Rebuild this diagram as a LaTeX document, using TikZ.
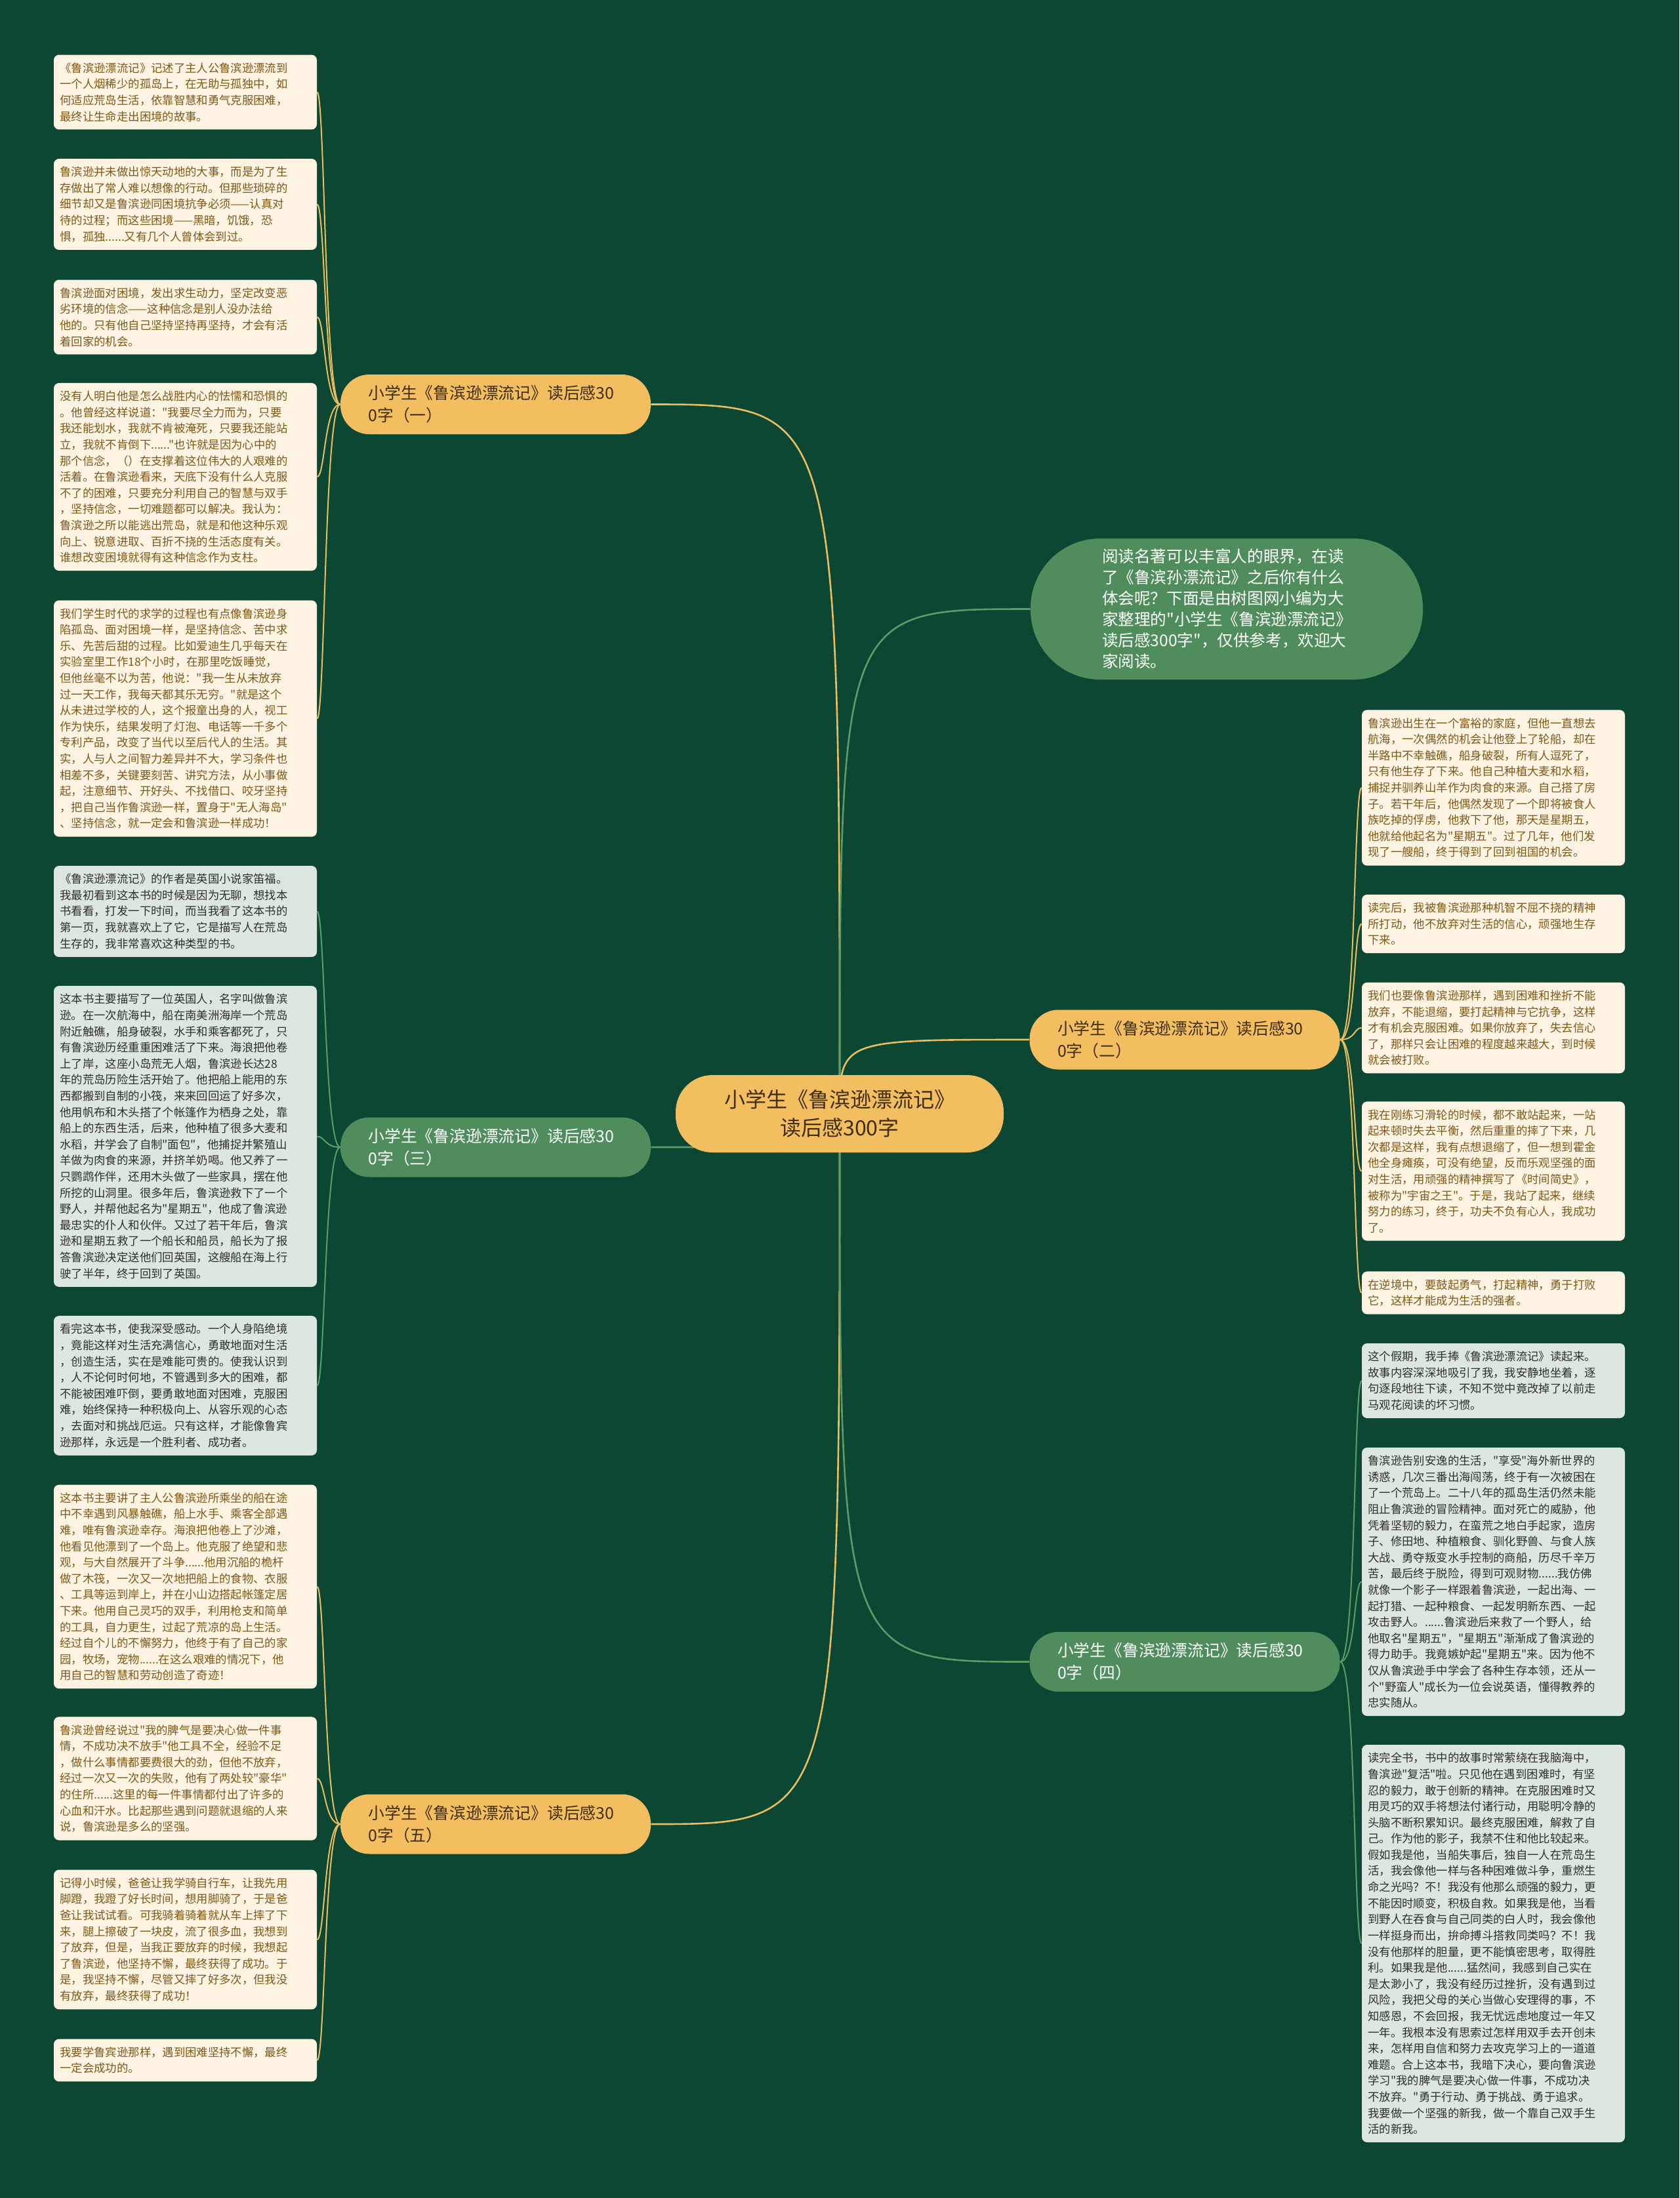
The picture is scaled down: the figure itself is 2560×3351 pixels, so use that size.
\documentclass[tikz,border=0pt]{standalone}
\usepackage{fontspec}
\newfontfamily\cjk{Noto Sans CJK SC}

\definecolor{bgcol}{HTML}{0C4733}
\definecolor{onode}{HTML}{F2BE5F}
\definecolor{otext}{HTML}{3F2D0C}
\definecolor{gnode}{HTML}{4F8D5C}
\definecolor{ocard}{HTML}{FCF3E3}
\definecolor{ocardtext}{HTML}{7E5816}
\definecolor{gcard}{HTML}{DCE8DF}
\definecolor{gcardtext}{HTML}{2E2E2E}
\definecolor{oline}{HTML}{E9BE62}
\definecolor{gline}{HTML}{5C9C69}

\pgfdeclarelayer{bg}
\pgfdeclarelayer{edges}
\pgfsetlayers{bg,edges,main}

\begin{document}
\begin{tikzpicture}[x=0.5pt,y=-0.5pt,
  root/.style={fill=onode, text=otext, rounded corners=28pt, minimum width=250pt,
    minimum height=59pt, align=center, font=\cjk\fontsize{16pt}{21.5pt}\selectfont},
  branch/.style={rounded corners=22pt, text width=194pt, inner xsep=21.25pt,
    minimum height=45.5pt, align=left, font=\cjk\fontsize{12.4pt}{17pt}\selectfont},
  obranch/.style={branch, fill=onode, text=otext},
  gbranch/.style={branch, fill=gnode, text=white},
  intro/.style={fill=gnode, text=white, rounded corners=53pt, text width=190pt,
    minimum width=299pt, minimum height=107.5pt, align=left,
    font=\cjk\fontsize{12.3pt}{16pt}\selectfont},
  card/.style={rounded corners=4pt, text width=191pt, inner xsep=4.75pt, inner ysep=6pt,
    align=left, font=\cjk\fontsize{8.68pt}{12.3pt}\selectfont},
  ocardbox/.style={card, fill=ocard, text=ocardtext},
  gcardbox/.style={card, fill=gcard, text=gcardtext},
  oedge/.style={draw=oline, line width=1pt},
  gedge/.style={draw=gline, line width=1pt}]

\begin{pgfonlayer}{bg}
\fill[bgcol] (0,0) rectangle (2560,3351);
\end{pgfonlayer}
\useasboundingbox (0,0) rectangle (2560,3351);

% centre and branches
\node[root] (root) at (1280,1698) {小学生《鲁滨逊漂流记》\\读后感300字};
\node[obranch] (b1) at (755.5,616.5) {小学生《鲁滨逊漂流记》读后感30\\0字（一）};
\node[gbranch] (b3) at (755.5,1749) {小学生《鲁滨逊漂流记》读后感30\\0字（三）};
\node[obranch] (b5) at (755.5,2781) {小学生《鲁滨逊漂流记》读后感30\\0字（五）};
\node[obranch] (b2) at (1806,1585) {小学生《鲁滨逊漂流记》读后感30\\0字（二）};
\node[gbranch] (b4) at (1806,2533.5) {小学生《鲁滨逊漂流记》读后感30\\0字（四）};
\node[intro] (intro) at (1870,928.5) {阅读名著可以丰富人的眼界，在读\\
了《鲁滨孙漂流记》之后你有什么\\
体会呢？下面是由树图网小编为大\\
家整理的"小学生《鲁滨逊漂流记》\\
读后感300字"，仅供参考，欢迎大\\
家阅读。};

% left cards
\node[ocardbox] (l1) at (282.5,140.5) {《鲁滨逊漂流记》记述了主人公鲁滨逊漂流到\\
一个人烟稀少的孤岛上，在无助与孤独中，如\\
何适应荒岛生活，依靠智慧和勇气克服困难，\\
最终让生命走出困境的故事。};
\node[ocardbox] (l2) at (282.5,311.5) {鲁滨逊并未做出惊天动地的大事，而是为了生\\
存做出了常人难以想像的行动。但那些琐碎的\\
细节却又是鲁滨逊同困境抗争必须——认真对\\
待的过程；而这些困境——黑暗，饥饿，恐\\
惧，孤独......又有几个人曾体会到过。};
\node[ocardbox] (l3) at (282.5,483.5) {鲁滨逊面对困境，发出求生动力，坚定改变恶\\
劣环境的信念——这种信念是别人没办法给\\
他的。只有他自己坚持坚持再坚持，才会有活\\
着回家的机会。};
\node[ocardbox] (l4) at (282.5,727) {没有人明白他是怎么战胜内心的怯懦和恐惧的\\
。他曾经这样说道："我要尽全力而为，只要\\
我还能划水，我就不肯被淹死，只要我还能站\\
立，我就不肯倒下......"也许就是因为心中的\\
那个信念，（）在支撑着这位伟大的人艰难的\\
活着。在鲁滨逊看来，天底下没有什么人克服\\
不了的困难，只要充分利用自己的智慧与双手\\
，坚持信念，一切难题都可以解决。我认为：\\
鲁滨逊之所以能逃出荒岛，就是和他这种乐观\\
向上、锐意进取、百折不挠的生活态度有关。\\
谁想改变困境就得有这种信念作为支柱。};
\node[ocardbox] (l5) at (282.5,1095.5) {我们学生时代的求学的过程也有点像鲁滨逊身\\
陷孤岛、面对困境一样，是坚持信念、苦中求\\
乐、先苦后甜的过程。比如爱迪生几乎每天在\\
实验室里工作18个小时，在那里吃饭睡觉，\\
但他丝毫不以为苦，他说："我一生从未放弃\\
过一天工作，我每天都其乐无穷。"就是这个\\
从未进过学校的人，这个报童出身的人，视工\\
作为快乐，结果发明了灯泡、电话等一千多个\\
专利产品，改变了当代以至后代人的生活。其\\
实，人与人之间智力差异并不大，学习条件也\\
相差不多，关键要刻苦、讲究方法，从小事做\\
起，注意细节、开好头、不找借口、咬牙坚持\\
，把自己当作鲁滨逊一样，置身于"无人海岛"\\
、坚持信念，就一定会和鲁滨逊一样成功！};
\node[gcardbox] (l6) at (282.5,1389.5) {《鲁滨逊漂流记》的作者是英国小说家笛福。\\
我最初看到这本书的时候是因为无聊，想找本\\
书看看，打发一下时间，而当我看了这本书的\\
第一页，我就喜欢上了它，它是描写人在荒岛\\
生存的，我非常喜欢这种类型的书。};
\node[gcardbox] (l7) at (282.5,1732.5) {这本书主要描写了一位英国人，名字叫做鲁滨\\
逊。在一次航海中，船在南美洲海岸一个荒岛\\
附近触礁，船身破裂，水手和乘客都死了，只\\
有鲁滨逊历经重重困难活了下来。海浪把他卷\\
上了岸，这座小岛荒无人烟，鲁滨逊长达28\\
年的荒岛历险生活开始了。他把船上能用的东\\
西都搬到自制的小筏，来来回回运了好多次，\\
他用帆布和木头搭了个帐篷作为栖身之处，靠\\
船上的东西生活，后来，他种植了很多大麦和\\
水稻，并学会了自制"面包"，他捕捉并繁殖山\\
羊做为肉食的来源，并挤羊奶喝。他又养了一\\
只鹦鹉作伴，还用木头做了一些家具，摆在他\\
所挖的山洞里。很多年后，鲁滨逊救下了一个\\
野人，并帮他起名为"星期五"，他成了鲁滨逊\\
最忠实的仆人和伙伴。又过了若干年后，鲁滨\\
逊和星期五救了一个船长和船员，船长为了报\\
答鲁滨逊决定送他们回英国，这艘船在海上行\\
驶了半年，终于回到了英国。};
\node[gcardbox] (l8) at (282.5,2112.5) {看完这本书，使我深受感动。一个人身陷绝境\\
，竟能这样对生活充满信心，勇敢地面对生活\\
，创造生活，实在是难能可贵的。使我认识到\\
，人不论何时何地，不管遇到多大的困难，都\\
不能被困难吓倒，要勇敢地面对困难，克服困\\
难，始终保持一种积极向上、从容乐观的心态\\
，去面对和挑战厄运。只有这样，才能像鲁宾\\
逊那样，永远是一个胜利者、成功者。};
\node[ocardbox] (l9) at (282.5,2419) {这本书主要讲了主人公鲁滨逊所乘坐的船在途\\
中不幸遇到风暴触礁，船上水手、乘客全部遇\\
难，唯有鲁滨逊幸存。海浪把他卷上了沙滩，\\
他看见他漂到了一个岛上。他克服了绝望和悲\\
观，与大自然展开了斗争......他用沉船的桅杆\\
做了木筏，一次又一次地把船上的食物、衣服\\
、工具等运到岸上，并在小山边搭起帐篷定居\\
下来。他用自己灵巧的双手，利用枪支和简单\\
的工具，自力更生，过起了荒凉的岛上生活。\\
经过自个儿的不懈努力，他终于有了自己的家\\
园，牧场，宠物......在这么艰难的情况下，他\\
用自己的智慧和劳动创造了奇迹！};
\node[ocardbox] (l10) at (282.5,2711.5) {鲁滨逊曾经说过"我的脾气是要决心做一件事\\
情，不成功决不放手"他工具不全，经验不足\\
，做什么事情都要费很大的劲，但他不放弃，\\
经过一次又一次的失败，他有了两处较"豪华"\\
的住所......这里的每一件事情都付出了许多的\\
心血和汗水。比起那些遇到问题就退缩的人来\\
说，鲁滨逊是多么的坚强。};
\node[ocardbox] (l11) at (282.5,2957) {记得小时候，爸爸让我学骑自行车，让我先用\\
脚蹬，我蹬了好长时间，想用脚骑了，于是爸\\
爸让我试试看。可我骑着骑着就从车上摔了下\\
来，腿上擦破了一块皮，流了很多血，我想到\\
了放弃，但是，当我正要放弃的时候，我想起\\
了鲁滨逊，他坚持不懈，最终获得了成功。于\\
是，我坚持不懈，尽管又摔了好多次，但我没\\
有放弃，最终获得了成功！};
\node[ocardbox] (l12) at (282.5,3141) {我要学鲁宾逊那样，遇到困难坚持不懈，最终\\
一定会成功的。};

% right cards
\node[ocardbox] (r1) at (2276.5,1201) {鲁滨逊出生在一个富裕的家庭，但他一直想去\\
航海，一次偶然的机会让他登上了轮船，却在\\
半路中不幸触礁，船身破裂，所有人逗死了，\\
只有他生存了下来。他自己种植大麦和水稻，\\
捕捉并驯养山羊作为肉食的来源。自己搭了房\\
子。若干年后，他偶然发现了一个即将被食人\\
族吃掉的俘虏，他救下了他，那天是星期五，\\
他就给他起名为"星期五"。过了几年，他们发\\
现了一艘船，终于得到了回到祖国的机会。};
\node[ocardbox] (r2) at (2276.5,1408.5) {读完后，我被鲁滨逊那种机智不屈不挠的精神\\
所打动，他不放弃对生活的信心，顽强地生存\\
下来。};
\node[ocardbox] (r3) at (2276.5,1567) {我们也要像鲁滨逊那样，遇到困难和挫折不能\\
放弃，不能退缩，要打起精神与它抗争，这样\\
才有机会克服困难。如果你放弃了，失去信心\\
了，那样只会让困难的程度越来越大，到时候\\
就会被打败。};
\node[ocardbox] (r4) at (2276.5,1785.5) {我在刚练习滑轮的时候，都不敢站起来，一站\\
起来顿时失去平衡，然后重重的摔了下来，几\\
次都是这样，我有点想退缩了，但一想到霍金\\
他全身瘫痪，可没有绝望，反而乐观坚强的面\\
对生活，用顽强的精神撰写了《时间简史》，\\
被称为"宇宙之王"。于是，我站了起来，继续\\
努力的练习，终于，功夫不负有心人，我成功\\
了。};
\node[ocardbox] (r5) at (2276.5,1971) {在逆境中，要鼓起勇气，打起精神，勇于打败\\
它，这样才能成为生活的强者。};
\node[gcardbox] (r6) at (2276.5,2105) {这个假期，我手捧《鲁滨逊漂流记》读起来。\\
故事内容深深地吸引了我，我安静地坐着，逐\\
句逐段地往下读，不知不觉中竟改掉了以前走\\
马观花阅读的坏习惯。};
\node[gcardbox] (r7) at (2276.5,2411.5) {鲁滨逊告别安逸的生活，"享受"海外新世界的\\
诱惑，几次三番出海闯荡，终于有一次被困在\\
了一个荒岛上。二十八年的孤岛生活仍然未能\\
阻止鲁滨逊的冒险精神。面对死亡的威胁，他\\
凭着坚韧的毅力，在蛮荒之地白手起家，造房\\
子、修田地、种植粮食、驯化野兽、与食人族\\
大战、勇夺叛变水手控制的商船，历尽千辛万\\
苦，最后终于脱险，得到可观财物......我仿佛\\
就像一个影子一样跟着鲁滨逊，一起出海、一\\
起打猎、一起种粮食、一起发明新东西、一起\\
攻击野人。......鲁滨逊后来救了一个野人，给\\
他取名"星期五"，"星期五"渐渐成了鲁滨逊的\\
得力助手。我竟嫉妒起"星期五"来。因为他不\\
仅从鲁滨逊手中学会了各种生存本领，还从一\\
个"野蛮人"成长为一位会说英语，懂得教养的\\
忠实随从。};
\node[gcardbox] (r8) at (2276.5,2963) {读完全书，书中的故事时常萦绕在我脑海中，\\
鲁滨逊"复活"啦。只见他在遇到困难时，有坚\\
忍的毅力，敢于创新的精神。在克服困难时又\\
用灵巧的双手将想法付诸行动，用聪明冷静的\\
头脑不断积累知识。最终克服困难，解救了自\\
己。作为他的影子，我禁不住和他比较起来。\\
假如我是他，当船失事后，独自一人在荒岛生\\
活，我会像他一样与各种困难做斗争，重燃生\\
命之光吗？不！我没有他那么顽强的毅力，更\\
不能因时顺变，积极自救。如果我是他，当看\\
到野人在吞食与自己同类的白人时，我会像他\\
一样挺身而出，拚命搏斗搭救同类吗？不！我\\
没有他那样的胆量，更不能慎密思考，取得胜\\
利。如果我是他......猛然间，我感到自己实在\\
是太渺小了，我没有经历过挫折，没有遇到过\\
风险，我把父母的关心当做心安理得的事，不\\
知感恩，不会回报，我无忧远虑地度过一年又\\
一年。我根本没有思索过怎样用双手去开创未\\
来，怎样用自信和努力去攻克学习上的一道道\\
难题。合上这本书，我暗下决心，要向鲁滨逊\\
学习"我的脾气是要决心做一件事，不成功决\\
不放弃。"勇于行动、勇于挑战、勇于追求。\\
我要做一个坚强的新我，做一个靠自己双手生\\
活的新我。};

% connectors
\begin{pgfonlayer}{edges}
\foreach \b/\s in {b1/oedge, b3/gedge, b5/oedge}
  \draw[\s, line width=1.3pt] (root.center) .. controls (root.center |- \b.east) .. (\b.east);
\foreach \b/\s in {intro/gedge, b2/oedge, b4/gedge}
  \draw[\s, line width=1.3pt] (root.center) .. controls (root.center |- \b.west) .. (\b.west);
\foreach \l in {l1,l2,l3,l4,l5}
  \draw[oedge] (b1.west) .. controls +(-24,0) and +(12,0) .. (\l.east);
\foreach \l in {l6,l7,l8}
  \draw[gedge] (b3.west) .. controls +(-24,0) and +(12,0) .. (\l.east);
\foreach \l in {l9,l10,l11,l12}
  \draw[oedge] (b5.west) .. controls +(-24,0) and +(12,0) .. (\l.east);
\foreach \r in {r1,r2,r3,r4,r5}
  \draw[oedge] (b2.east) .. controls +(24,0) and +(-12,0) .. (\r.west);
\foreach \r in {r6,r7,r8}
  \draw[gedge] (b4.east) .. controls +(24,0) and +(-12,0) .. (\r.west);
\end{pgfonlayer}
\end{tikzpicture}
\end{document}
